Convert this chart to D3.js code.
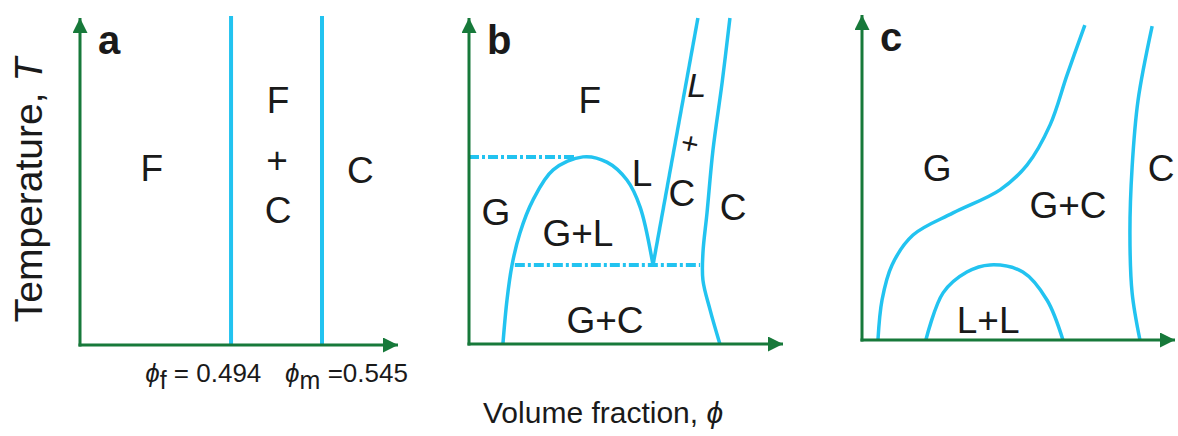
<!DOCTYPE html>
<html>
<head>
<meta charset="utf-8">
<script src="https://cdn.jsdelivr.net/npm/d3@7"></script>
<style>
  body { margin: 0; background: #fff; }
  text { font-family: "Liberation Sans", Arial, sans-serif; fill: #1a1a1a; }
</style>
</head>
<body>
<script>
// phase diagram sketches, coordinates in 0..100 of each panel's axes

// panel a: the two vertical boundaries
var aBounds = [47.5, 76.1];
var aLabels = [["F", 22.6, 54.1], ["F", 62.3, 74.9], ["+", 62.0, 56.6], ["C", 62.3, 41.3], ["C", 88.2, 53.5]];
var aTicks = [["f", " = 0.494", 20.5], ["m", " =0.545", 64.5]];

// panel b
var bGasBinodal = [[10.8,0],[12.1,13.5],[13.7,24.2],[16.2,34.0],[20.4,44.2],[26.8,53.4],[36.3,57.4],[43.9,55.8],[50.3,50.3],[54.5,42.0],[58.6,24.2]];
var bLiquidus = [[58.6,24.2],[72.9,100]];
var bSolidus = [[79.9,0],[76.8,10.4],[74.5,19.6],[74.5,27.9],[75.8,40.2],[77.7,59.5],[80.6,80.1],[83.1,100]];
var bCritical = [[0,57.4],[34.4,57.4]];
var bTriple = [[14.6,24.2],[73.6,24.2]];
var bLabels = [["F", 38.5, 74.8], ["L", 55.1, 52.5], ["G", 8.6, 40.5], ["G+L", 34.7, 34.0], ["C", 67.8, 46.3], ["C", 84.1, 42.0], ["G+C", 43.3, 7.4]];

// panel c
var cGasCurve = [[5.1,0],[6.4,12.3],[9.6,23.1],[16.3,32.3],[29.1,39.1],[44.1,46.2],[52.7,53.8],[60.1,66.2],[65.5,81.5],[71.2,96.9]];
var cDome = [[20.4,0],[25.9,14.5],[33.5,20.9],[40.9,23.1],[51.4,20.9],[59.1,12.3],[64.2,0]];
var cSolid = [[88.8,0],[86.3,14.5],[85.6,32.9],[86.3,53.2],[88.2,73.8],[92.7,96.6]];
var cLabels = [["G", 24.0, 53.0], ["G+C", 65.8, 41.5], ["C", 95.6, 53.0], ["L+L", 40.3, 6.2]];

var blue = "#22c3f0", green = "#17793a";

var svg = d3.select("body").append("svg")
    .attr("width", 1178)
    .attr("height", 436);

svg.append("defs").append("marker")
    .attr("id", "arrow")
    .attr("viewBox", "0 0 10 10")
    .attr("refX", 10).attr("refY", 5)
    .attr("markerWidth", 5).attr("markerHeight", 5)
    .attr("markerUnits", "strokeWidth")
    .attr("orient", "auto")
  .append("path")
    .attr("d", "M0,0L10,5L0,10z")
    .attr("fill", green);

// each panel: origin and arrow tips in pixels
function panel(left, right, bottom, top, letter) {
  var x = d3.scaleLinear().domain([0, 100]).range([left, right]);
  var y = d3.scaleLinear().domain([0, 100]).range([bottom, top]);
  var g = svg.append("g");
  var p = {x: x, y: y, g: g};
  p.line = d3.line().x(function(d){ return x(d[0]); }).y(function(d){ return y(d[1]); })
      .curve(d3.curveCatmullRom.alpha(0.5));
  p.curve = function(data, dash, w) {
    g.append("path")
      .attr("d", p.line(data))
      .attr("fill", "none")
      .attr("stroke", blue)
      .attr("stroke-width", w || 3.5)
      .attr("stroke-dasharray", dash || null);
  };
  p.labels = function(list, size) {
    g.selectAll(null).data(list).enter().append("text")
      .attr("x", function(d){ return x(d[1]); })
      .attr("y", function(d){ return y(d[2]); })
      .attr("dy", "0.36em")
      .attr("text-anchor", "middle")
      .attr("font-size", size || 37)
      .text(function(d){ return d[0]; });
  };
  p.axes = function() {
    g.append("line")
      .attr("x1", x(0) - 1.5).attr("y1", y(0))
      .attr("x2", x(100)).attr("y2", y(0))
      .attr("stroke", green).attr("stroke-width", 3)
      .attr("marker-end", "url(#arrow)");
    g.append("line")
      .attr("x1", x(0)).attr("y1", y(0) + 1.5)
      .attr("x2", x(0)).attr("y2", y(100))
      .attr("stroke", green).attr("stroke-width", 3)
      .attr("marker-end", "url(#arrow)");
    g.append("text")
      .attr("x", x(0) + 18).attr("y", y(100) + 36)
      .attr("font-size", 40).attr("font-weight", "bold")
      .attr("fill", "#000")
      .text(letter);
  };
  return p;
}

// a
var pa = panel(80, 398, 345, 18, "a");
pa.g.selectAll(".bound").data(aBounds).enter().append("line")
    .attr("x1", function(d){ return pa.x(d); }).attr("x2", function(d){ return pa.x(d); })
    .attr("y1", pa.y(0)).attr("y2", pa.y(100.6))
    .attr("stroke", blue).attr("stroke-width", 4);
pa.axes();
pa.labels(aLabels);
var tk = pa.g.selectAll(".tick").data(aTicks).enter().append("text")
    .attr("x", function(d){ return pa.x(d[2]); })
    .attr("y", 382)
    .attr("font-size", 26);
tk.append("tspan").attr("font-style", "italic").text("\u03d5");
tk.append("tspan").attr("dy", 7).attr("font-size", 25).text(function(d){ return d[0]; });
tk.append("tspan").attr("dy", -7).text(function(d){ return d[1]; });

// b
var pb = panel(469, 783, 344, 18, "b");
pb.curve(bCritical, "10,3,3,3", 4);
pb.curve(bTriple, "10,3,3,3", 4);
pb.curve(bGasBinodal);
pb.curve(bLiquidus);
pb.curve(bSolidus);
pb.axes();
pb.labels(bLabels);
pb.g.append("text")
    .attr("x", pb.x(72.5)).attr("y", pb.y(79.4)).attr("dy", "0.36em")
    .attr("text-anchor", "middle").attr("font-size", 34).attr("font-style", "italic")
    .text("L");
pb.g.append("text")
    .attr("transform", "translate(" + pb.x(70.4) + "," + pb.y(61.7) + ") rotate(12)")
    .attr("dy", "0.36em")
    .attr("text-anchor", "middle").attr("font-size", 30)
    .text("+");

// c
var pc = panel(862, 1175, 340, 15, "c");
pc.curve(cGasCurve);
pc.curve(cDome);
pc.curve(cSolid);
pc.axes();
pc.labels(cLabels);

// shared axis titles
svg.append("text")
    .attr("transform", "translate(42,190) rotate(-90)")
    .attr("text-anchor", "middle")
    .attr("font-size", 39)
    .call(function(t){
      t.append("tspan").text("Temperature, ");
      t.append("tspan").attr("font-style", "italic").text("T");
    });

svg.append("text")
    .attr("x", 483).attr("y", 423)
    .attr("font-size", 30)
    .call(function(t){
      t.append("tspan").text("Volume fraction, ");
      t.append("tspan").attr("font-style", "italic").text("\u03d5");
    });
</script>
</body>
</html>
